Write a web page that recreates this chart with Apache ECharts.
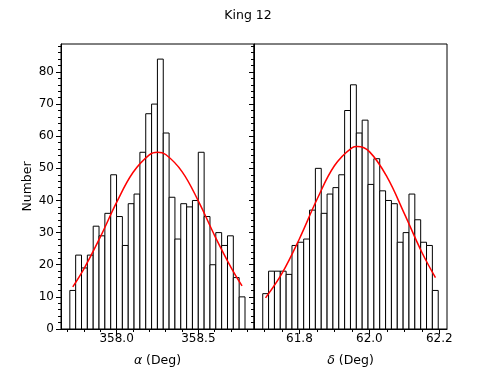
<!DOCTYPE html>
<html>
<head>
<meta charset="utf-8">
<script src="https://cdn.jsdelivr.net/npm/echarts@6/dist/echarts.min.js"></script>
<style>
  html, body { margin: 0; padding: 0; background: #fff; }
  #chart { width: 496px; height: 372px; }
</style>
</head>
<body>
<div id="chart"></div>
<script>
// histogram counts
var raCounts = [12, 23, 19, 23, 32, 29, 36, 48, 35, 26, 39, 42, 55, 67, 70, 84, 61, 41, 28, 39, 38, 40, 55, 35, 20, 30, 26, 29, 16, 10];
var raBinStart = 357.714;
var raBinWidth = 0.0357;

var decCounts = [11, 18, 18, 18, 17, 26, 27, 28, 37, 50, 36, 42, 44, 48, 68, 76, 61, 65, 45, 53, 43, 40, 39, 27, 30, 42, 34, 27, 26, 12];
var decBinStart = 61.695;
var decBinWidth = 0.01673;

// red fitted curves
var raFitX = [357.732, 357.80, 357.90, 358.00, 358.10, 358.20, 358.25, 358.30, 358.40, 358.50, 358.60, 358.70, 358.767];
var raFitY = [13.1, 18.7, 28.6, 39.4, 48.7, 54.2, 55.0, 54.3, 49.0, 39.8, 29.0, 19.1, 13.4];
var decFitX = [61.703, 61.75, 61.80, 61.85, 61.90, 61.95, 61.966, 62.00, 62.05, 62.10, 62.15, 62.189];
var decFitY = [9.7, 17.3, 28.1, 40.3, 50.8, 56.4, 56.8, 55.2, 47.4, 35.9, 23.9, 16.0];

// ticks
var raTicks = [358.0, 358.5];
var raMinorTicks = [357.7, 357.8, 357.9, 358.0, 358.1, 358.2, 358.3, 358.4, 358.5, 358.6, 358.7, 358.8];
var decTicks = [61.8, 62.0, 62.2];
var decMinorTicks = [61.70, 61.75, 61.80, 61.85, 61.90, 61.95, 62.00, 62.05, 62.10, 62.15, 62.20];
var yTicks = [0, 10, 20, 30, 40, 50, 60, 70, 80];
var yMinorTicks = [0, 2, 4, 6, 8, 10, 12, 14, 16, 18, 20, 22, 24, 26, 28, 30, 32, 34, 36, 38, 40, 42, 44, 46, 48, 50, 52, 54, 56, 58, 60, 62, 64, 66, 68, 70, 72, 74, 76, 78, 80, 82, 84, 86, 88];

var FONT = 'DejaVu Sans';

function bins(start, width, counts) {
  return counts.map(function (c, i) {
    return [start + i * width, start + (i + 1) * width, c];
  });
}
function pairs(xs, ys) {
  return xs.map(function (x, i) { return [x, ys[i]]; });
}

function renderBar(params, api) {
  var p0 = api.coord([api.value(0), api.value(2)]);
  var p1 = api.coord([api.value(1), 0]);
  return {
    type: 'rect',
    shape: { x: p0[0], y: p0[1], width: p1[0] - p0[0], height: p1[1] - p0[1] },
    style: { fill: '#fff', stroke: '#000', lineWidth: 1 }
  };
}

function majorX(grid, min, max, ticks, name) {
  return {
    type: 'value', gridIndex: grid, min: min, max: max, position: 'bottom',
    name: name, nameLocation: 'middle', nameGap: 25,
    nameTextStyle: { color: '#000', fontFamily: FONT, fontSize: 12.5,
      rich: { it: { fontStyle: 'italic', fontFamily: FONT, fontSize: 12.5, color: '#000' } } },
    axisLine: { onZero: false, lineStyle: { color: '#000', width: 1 } },
    axisTick: { customValues: ticks, length: 5, lineStyle: { color: '#000' } },
    axisLabel: { customValues: ticks, margin: 4, color: '#000', fontFamily: FONT, fontSize: 12,
      formatter: function (v) { return v.toFixed(1); } },
    splitLine: { show: false }
  };
}
function minorX(grid, min, max, ticks) {
  return {
    type: 'value', gridIndex: grid, min: min, max: max, position: 'bottom',
    axisLine: { show: false, onZero: false },
    axisTick: { customValues: ticks, length: 3, lineStyle: { color: '#000' } },
    axisLabel: { show: false },
    splitLine: { show: false }
  };
}
function majorY(grid, showLabels) {
  return {
    type: 'value', gridIndex: grid, min: 0, max: 88.7, position: 'left',
    name: showLabels ? 'Number' : '', nameLocation: 'middle', nameGap: 27,
    nameTextStyle: { color: '#000', fontFamily: FONT, fontSize: 12.5 },
    axisLine: { show: true, lineStyle: { color: '#000', width: 1 } },
    axisTick: { customValues: yTicks, length: 5, lineStyle: { color: '#000' } },
    axisLabel: { show: showLabels, customValues: yTicks, margin: 7, color: '#000', fontFamily: FONT, fontSize: 12 },
    splitLine: { show: false }
  };
}
function minorY(grid) {
  return {
    type: 'value', gridIndex: grid, min: 0, max: 88.7, position: 'left',
    axisLine: { show: false },
    axisTick: { customValues: yMinorTicks, length: 3, lineStyle: { color: '#000' } },
    axisLabel: { show: false },
    splitLine: { show: false }
  };
}

var chart = echarts.init(document.getElementById('chart'), null, { renderer: 'canvas' });
chart.setOption({
  backgroundColor: '#fff',
  animation: false,
  title: {
    text: 'King 12', left: 'center', top: 4,
    textStyle: { color: '#000', fontFamily: FONT, fontSize: 12.5, fontWeight: 'normal' }
  },
  grid: [
    { left: 61, top: 44, width: 193, height: 286.5, show: true, borderColor: '#000', borderWidth: 1, backgroundColor: 'transparent' },
    { left: 254, top: 44, width: 193, height: 286.5, show: true, borderColor: '#000', borderWidth: 1, backgroundColor: 'transparent' }
  ],
  xAxis: [
    majorX(0, 357.66, 358.84, raTicks, '{it|α} (Deg)'),
    minorX(0, 357.66, 358.84, raMinorTicks),
    majorX(1, 61.670, 62.222, decTicks, '{it|δ} (Deg)'),
    minorX(1, 61.670, 62.222, decMinorTicks)
  ],
  yAxis: [majorY(0, true), minorY(0), majorY(1, false), minorY(1)],
  series: [
    { type: 'custom', xAxisIndex: 0, yAxisIndex: 0, renderItem: renderBar,
      encode: { x: [0, 1], y: 2 }, data: bins(raBinStart, raBinWidth, raCounts) },
    { type: 'custom', xAxisIndex: 2, yAxisIndex: 2, renderItem: renderBar,
      encode: { x: [0, 1], y: 2 }, data: bins(decBinStart, decBinWidth, decCounts) },
    { type: 'line', xAxisIndex: 0, yAxisIndex: 0, smooth: 0.4, showSymbol: false, z: 5,
      lineStyle: { color: '#ff0000', width: 1.5 }, data: pairs(raFitX, raFitY) },
    { type: 'line', xAxisIndex: 2, yAxisIndex: 2, smooth: 0.4, showSymbol: false, z: 5,
      lineStyle: { color: '#ff0000', width: 1.5 }, data: pairs(decFitX, decFitY) }
  ]
});
</script>
</body>
</html>
